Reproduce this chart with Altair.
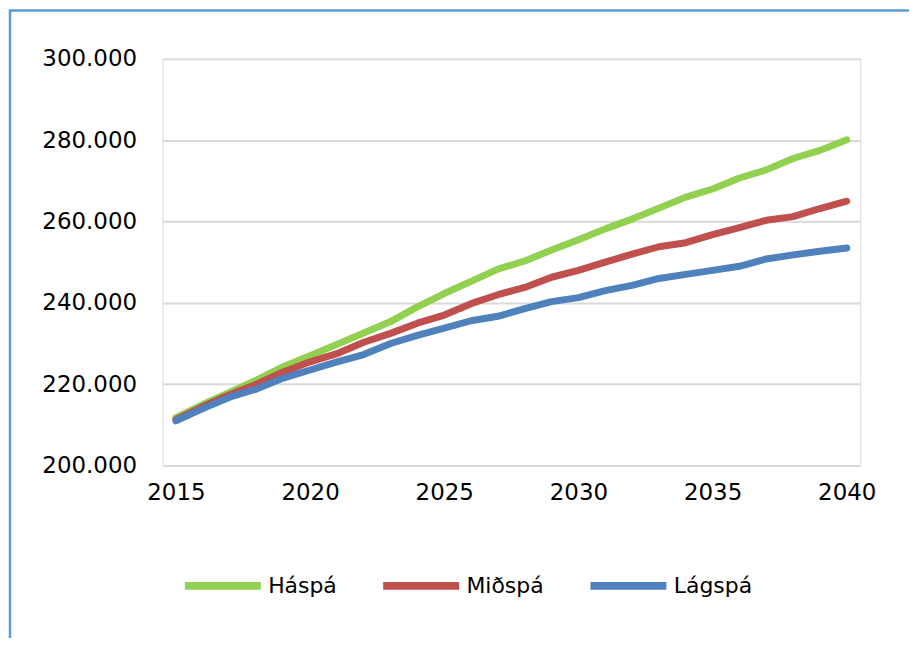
import altair as alt
import pandas as pd

years = list(range(2015, 2041))
series_names = ["Háspá", "Miðspá", "Lágspá"]
colors = ["#92D050", "#C0504D", "#4F81BD"]

haspa = [211800, 215000, 218000, 221000, 224300, 227000, 229800, 232600, 235400, 239000,
         242300, 245300, 248300, 250300, 253000, 255500, 258200, 260600, 263300, 266000,
         268000, 270700, 272700, 275500, 277500, 280100]
midspa = [211300, 214500, 217400, 220000, 223000, 225500, 227500, 230300, 232500, 235000,
          237000, 239800, 242000, 243800, 246300, 248000, 250000, 252000, 253800, 254800,
          256800, 258500, 260300, 261200, 263200, 265000]
lagspa = [211000, 214000, 216800, 218800, 221500, 223500, 225500, 227300, 230000, 232000,
          233800, 235600, 236700, 238600, 240300, 241300, 243000, 244300, 246000, 247000,
          248000, 249000, 250800, 251800, 252700, 253500]

x_ticks = [2015, 2020, 2025, 2030, 2035, 2040]
y_ticks = [200000, 220000, 240000, 260000, 280000, 300000]

rows = []
for name, vals in zip(series_names, [haspa, midspa, lagspa]):
    for yr, v in zip(years, vals):
        rows.append({"Ár": yr, "Fjöldi": v, "Spá": name})
df = pd.DataFrame(rows)

FONT = "DejaVu Sans"
FRAME = "#5B9BD5"

lines = alt.Chart(df).mark_line(strokeWidth=7, strokeCap="round", strokeJoin="round").encode(
    x=alt.X("Ár:Q",
            scale=alt.Scale(domain=[2014.5, 2040.5], nice=False, zero=False),
            axis=alt.Axis(values=x_ticks, format="d", title=None, grid=False, ticks=False,
                          domain=False, labelFontSize=23, labelFont=FONT, labelColor="#000000",
                          labelPadding=16)),
    y=alt.Y("Fjöldi:Q",
            scale=alt.Scale(domain=[200000, 300000], nice=False, zero=False),
            axis=alt.Axis(values=y_ticks, title=None, grid=True, gridColor="#D9D9D9",
                          gridWidth=2, ticks=False, domain=False, labelFontSize=23,
                          labelFont=FONT, labelColor="#000000", labelPadding=26,
                          labelExpr="replace(format(datum.value, ',d'), ',', '.')")),
    color=alt.Color("Spá:N",
                    scale=alt.Scale(domain=series_names, range=colors),
                    sort=series_names,
                    legend=alt.Legend(title=None, orient="none", direction="horizontal",
                                      legendX=18, legendY=486, symbolType="stroke",
                                      symbolSize=5800, symbolStrokeWidth=8,
                                      labelFontSize=22, labelFont=FONT, labelColor="#000000",
                                      labelOffset=3, columnPadding=30, columns=3)),
)

frame = alt.Chart(pd.DataFrame({"k": [0]})).mark_rect(
    fill=None, stroke=FRAME, strokeWidth=2.5, clip=False
).encode(
    x=alt.value(-153), x2=alt.value(900),
    y=alt.value(-48.5), y2=alt.value(700),
)

chart = alt.layer(frame, lines).properties(
    width=700, height=408,
    padding={"left": 155, "top": 50, "right": 49, "bottom": 172},
    autosize=alt.AutoSizeParams(type="none"),
).configure_view(stroke=FRAME, strokeWidth=3).configure(background="white")

chart.save("out.html", embed_options={"renderer": "svg", "actions": False})
